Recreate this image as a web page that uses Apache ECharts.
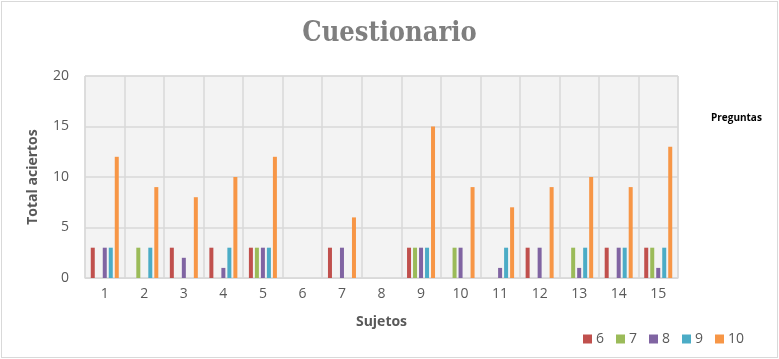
<!DOCTYPE html>
<html lang="es">
<head>
<meta charset="UTF-8">
<title>Cuestionario</title>
<style>
    * { margin: 0; padding: 0; }
    body { background: #fff; }
    #main {
        width: 775px;
        height: 355px;
        margin: 1px 0 0 1px;
        border: 1px solid #d9d9d9;
    }
</style>
</head>
<body>
<div id="main"></div>
<script src="https://cdn.jsdelivr.net/npm/echarts@6/dist/echarts.min.js"></script>
<script>
    // sujetos 1..15
    let sujetos = ['1', '2', '3', '4', '5', '6', '7', '8', '9', '10', '11', '12', '13', '14', '15'];
    // aciertos por pregunta
    let p6  = [3, 0, 3, 3, 3, 0, 3, 0, 3, 0, 0, 3, 0, 3, 3];
    let p7  = [0, 3, 0, 0, 3, 0, 0, 0, 3, 3, 0, 0, 3, 0, 3];
    let p8  = [3, 0, 2, 1, 3, 0, 3, 0, 3, 3, 1, 3, 1, 3, 1];
    let p9  = [3, 3, 0, 3, 3, 0, 0, 0, 3, 0, 3, 0, 3, 3, 3];
    let p10 = [12, 9, 8, 10, 12, 0, 6, 0, 15, 9, 7, 9, 10, 9, 13];
    let preguntas = ['6', '7', '8', '9', '10'];
    let colores = ['#c0504d', '#9bbb59', '#8064a2', '#4bacc6', '#f79646'];

    let valores = [p6, p7, p8, p9, p10];
    let series = preguntas.map((name, i) => {
        return {
            name: name,
            type: 'bar',
            data: valores[i],
            barWidth: 4,
            barGap: '50%',
            itemStyle: { color: colores[i] },
            emphasis: { disabled: true }
        }
    })

    let option = {
        animation: false,
        textStyle: { fontFamily: 'Open Sans, Noto Sans, sans-serif' },
        title: {
            text: 'Cuestionario',
            left: 'center',
            top: 13,
            textStyle: {
                fontFamily: 'DejaVu Serif Condensed, Liberation Serif, serif',
                fontSize: 27,
                fontWeight: 'bold',
                color: '#7f7f7f'
            }
        },
        legend: {
            data: preguntas,
            left: 576,
            top: 325,
            itemWidth: 9,
            itemHeight: 9,
            itemGap: 12,
            icon: 'rect',
            textStyle: { fontSize: 14, color: '#595959', padding: [0, 0, 0, -1] }
        },
        graphic: [{
            type: 'text',
            left: 709,
            top: 111,
            style: {
                text: 'Preguntas',
                fontSize: 10,
                fontWeight: 'bold',
                fill: '#000',
                fontFamily: 'Open Sans, sans-serif'
            }
        }],
        grid: {
            left: 83,
            right: 99,
            top: 74,
            bottom: 79,
            show: true,
            backgroundColor: '#f3f3f3',
            borderColor: '#d9d9d9',
            borderWidth: 1
        },
        xAxis: {
            type: 'category',
            data: sujetos,
            name: 'Sujetos',
            nameLocation: 'middle',
            nameGap: 37,
            nameTextStyle: { fontSize: 14, fontWeight: 'bold', color: '#595959' },
            axisLine: { lineStyle: { color: '#d9d9d9' } },
            axisTick: { show: false },
            axisLabel: { fontSize: 14, color: '#595959', margin: 9 },
            splitLine: { show: true, lineStyle: { color: '#d9d9d9', width: 1.5 } }
        },
        yAxis: {
            type: 'value',
            min: 0,
            max: 20,
            interval: 5,
            name: 'Total aciertos',
            nameLocation: 'middle',
            nameGap: 45,
            nameTextStyle: { fontSize: 14, fontWeight: 'bold', color: '#595959' },
            axisLine: { show: false },
            axisTick: { show: false },
            axisLabel: { fontSize: 14, color: '#595959', margin: 16 },
            splitLine: { lineStyle: { color: '#d9d9d9', width: 1.5 } }
        },
        series: series
    }
    initChart(option)

    function initChart(option) {
        let myCharts = echarts.init(document.getElementById('main'))
        myCharts.setOption(option)
        window.addEventListener('resize', () => {
            myCharts.resize()
        })
    }
</script>
</body>
</html>
